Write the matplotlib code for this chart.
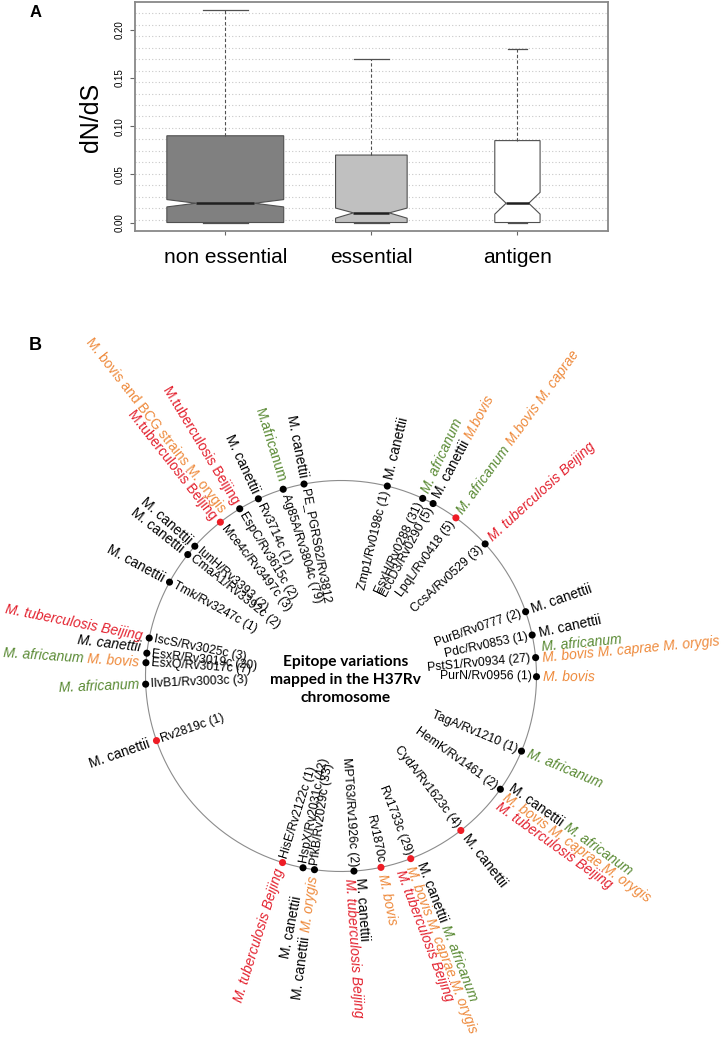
import numpy as np
import matplotlib
matplotlib.use('Agg')
import matplotlib.pyplot as plt

# ---- panel A data: dN/dS box statistics ----
categories = ['non essential', 'essential', 'antigen']
q1 = [0.0, 0.0, 0.0]
medians = [0.02, 0.01, 0.02]
q3 = [0.09, 0.07, 0.085]
whisk_hi = [0.22, 0.17, 0.18]
notch_lo = [0.0162, 0.0045, 0.0087]
notch_hi = [0.0238, 0.0150, 0.0313]
box_fill = ['#808080', '#c0c0c0', 'white']

# ---- panel B data: epitope variations around the H37Rv chromosome ----
genes = ['PE_PGRS62/Rv3812', 'Ag85A/Rv3804c (79)', 'Rv3714c (1)', 'EspC/Rv3615c (2)',
         'Mce4c/Rv3497c (3)', 'IunH/Rv3393 (2)', 'CmaA1/Rv3392c (2)', 'Tmk/Rv3247c (1)',
         'IscS/Rv3025c (3)', 'EsxR/Rv3019c (20)', 'EsxQ/Rv3017c (7)', 'IlvB1/Rv3003c (3)',
         'Rv2819c (1)', 'HisE/Rv2122c (1)', 'HspX/Rv2031c (42)', 'PfkB/Rv2029c (33)',
         'MPT63/Rv1926c (2)', 'Rv1870c', 'Rv1733c (29)', 'CydA/Rv1623c (4)',
         'HemK/Rv1461 (2)', 'TagA/Rv1210 (1)', 'PurN/Rv0956 (1)', 'PstS1/Rv0934 (27)',
         'Pdc/Rv0853 (1)', 'PurB/Rv0777 (2)', 'CcsA/Rv0529 (3)', 'LpqL/Rv0418 (5)',
         'EccD3/Rv0290 (5)', 'EsxH/Rv0288 (31)', 'Zmp1/Rv0198c (1)']
angles = [100.9, 107.2, 115.0, 121.2, 128.1, 138.4, 141.6, 151.3, 168.8, 173.3, 176.1,
          182.4, 199.3, 252.6, 258.8, 262.2, 273.8, 281.8, 290.9, 307.8, 324.6, 337.4,
          359.8, 5.4, 12.1, 19.2, 42.5, 54.0, 61.9, 65.3, 76.3]
red_dots = ['Mce4c/Rv3497c (3)', 'Rv2819c (1)', 'HisE/Rv2122c (1)', 'Rv1870c',
            'Rv1733c (29)', 'CydA/Rv1623c (4)', 'LpqL/Rv0418 (5)']
species = [
    [['M. canettii']],
    [['M.africanum']],
    [['M. canettii']],
    [['M.tuberculosis Beijing']],
    [['M. bovis and BCG strains M. orygis'], ['M.tuberculosis Beijing']],
    [['M. canettii']],
    [['M. canettii']],
    [['M. canettii']],
    [['M. tuberculosis Beijing']],
    [['M. canettii']],
    [['M. africanum', 'M. bovis']],
    [['M. africanum']],
    [['M. canettii']],
    [['M. tuberculosis Beijing']],
    [['M. canettii']],
    [['M. canettii', 'M. orygis']],
    [['M. canettii'], ['M. tuberculosis Beijing']],
    [['M. bovis']],
    [['M. canettii', 'M. africanum'], ['M. bovis M. caprae M. orygis'], ['M. tuberculosis Beijing']],
    [['M. canettii']],
    [['M. canettii', 'M. africanum'], ['M. bovis M. caprae M. orygis'], ['M. tuberculosis Beijing']],
    [['M. africanum']],
    [['M. bovis']],
    [['M. africanum'], ['M. bovis M. caprae M. orygis']],
    [['M. canettii']],
    [['M. canettii']],
    [['M. tuberculosis Beijing']],
    [['M. africanum', 'M.bovis M. caprae']],
    [['M. canettii', 'M.bovis']],
    [['M. africanum']],
    [['M. canettii']],
]

# layout tweaks for stacked labels (offset of first line, in line heights)
first_line = {4: 0.8, 9: 0.4, 16: 0.5, 18: 0.7, 20: 0.7, 23: 0.9}
extra_gap = {14: 16}
upright = {0, 1, 2, 3, 4}

GREEN = '#5a8a34'
ORANGE = '#ee8a3c'
RED = '#e3202d'
FONT = ['Liberation Sans', 'DejaVu Sans']


def species_color(s):
    if 'canettii' in s:
        return 'black'
    if 'africanum' in s:
        return GREEN
    if 'tuberculosis' in s:
        return RED
    return ORANGE


fig = plt.figure(figsize=(7.25, 10.37), dpi=100)
renderer = fig.canvas.get_renderer()

# ================= panel B =================
axB = fig.add_axes([0, 0, 1, 1])
axB.axis('off')
R = 195.5
cx, cy = 341.0, 676.0
axB.set_xlim(-cx / R, (725 - cx) / R)
axB.set_ylim(-(1037 - cy) / R, cy / R)

t = np.linspace(0, 2 * np.pi, 500)
axB.plot(np.cos(t), np.sin(t), color='#8c8c8c', lw=0.8, zorder=1)

rad = np.radians(angles)
dot_col = ['#ee1c25' if g in red_dots else 'black' for g in genes]
axB.scatter(np.cos(rad), np.sin(rad), c=dot_col, s=26, zorder=3, linewidths=0)


def width_pt(s, size, style):
    tt = fig.text(0, 0, s, fontsize=size, fontstyle=style, family=FONT)
    w = tt.get_window_extent(renderer=renderer).width
    tt.remove()
    return w * 72.0 / fig.dpi


def place(a, segs, outer, size, gap, perp, styles, colors):
    left = 90 < a < 270
    rot = a - 180 if left else (a - 360 if a > 270 else a)
    ar = np.radians(a)
    rr = np.radians(rot)
    u = np.array([np.cos(ar), np.sin(ar)])
    up = np.array([-np.sin(rr), np.cos(rr)])
    ha = 'left' if (outer != left) else 'right'
    sgn = 1 if outer else -1
    order = list(range(len(segs)))
    if ha == 'right':
        order = order[::-1]
    cum = gap
    for i in order:
        off = sgn * cum * u + perp * up
        axB.annotate(segs[i], xy=(np.cos(ar), np.sin(ar)), xycoords='data',
                     xytext=(off[0], off[1]), textcoords='offset points',
                     rotation=rot, rotation_mode='anchor', ha=ha, va='center',
                     fontsize=size, color=colors[i], fontstyle=styles[i],
                     family=FONT, annotation_clip=False)
        cum += width_pt(segs[i], size, styles[i]) + 0.28 * size


GENE_SIZE = 8.8
SP_SIZE = 10
LINE_H = 8.2
for i, (g, a) in enumerate(zip(genes, angles)):
    place(a, [g], False, GENE_SIZE, 3.6, 0, ['normal'], ['black'])
    lines = species[i]
    top = first_line.get(i, 0.0)
    for k, line in enumerate(lines):
        styles = []
        for s in line:
            if i in upright or ('canettii' in s and i != 9):
                styles.append('normal')
            else:
                styles.append('italic')
        cols = [species_color(s) for s in line]
        place(a, line, True, SP_SIZE, 5 + extra_gap.get(i, 0),
              (top - k) * LINE_H, styles, cols)

axB.text(0.025, -0.02, 'Epitope variations\nmapped in the H37Rv\nchromosome',
         ha='center', va='center', fontsize=11.2, fontweight='bold',
         family=['Lato', 'DejaVu Sans'], linespacing=1.4)

# ================= panel A =================
axA = fig.add_axes([134.7 / 725, 1 - 231 / 1037, (608 - 134.7) / 725, 229 / 1037])
lo, hi = -0.0088, 0.2288
for k in range(1, 20):
    axA.axhline(lo + k * (hi - lo) / 20, color='#c8c8c8', lw=0.8,
                linestyle=(0, (1, 2)), zorder=0)

stats = []
for i in range(len(categories)):
    stats.append(dict(med=medians[i], q1=q1[i], q3=q3[i], whislo=q1[i],
                      whishi=whisk_hi[i], cilo=notch_lo[i], cihi=notch_hi[i],
                      fliers=[]))
bp = axA.bxp(stats, positions=[1, 2, 3], widths=[0.8, 0.49, 0.31],
             capwidths=[0.31, 0.24, 0.13], shownotches=True, patch_artist=True,
             showfliers=False,
             boxprops=dict(edgecolor='#505050', linewidth=0.8),
             whiskerprops=dict(color='#505050', linewidth=0.8, linestyle=(0, (3, 2))),
             capprops=dict(color='#505050', linewidth=0.9),
             medianprops=dict(color='#202020', linewidth=1.8))
for patch, c in zip(bp['boxes'], box_fill):
    patch.set_facecolor(c)

axA.set_xlim(0.38, 3.62)
axA.set_ylim(lo, hi)
axA.set_xticks([1, 2, 3])
axA.set_xticklabels(categories, fontsize=15, family=FONT)
axA.set_yticks([0, 0.05, 0.10, 0.15, 0.20])
axA.set_yticklabels(['0.00', '0.05', '0.10', '0.15', '0.20'], fontsize=7,
                    rotation=90, va='center', family=FONT)
axA.tick_params(axis='x', length=3, color='#666666', pad=9)
axA.tick_params(axis='y', length=3.6, color='#666666', pad=4)
for sp in axA.spines.values():
    sp.set_color('#888888')
    sp.set_linewidth(1.3)

fig.text(91 / 725, 1 - 117 / 1037, 'dN/dS', rotation=90, ha='center', va='center',
         fontsize=18, family=FONT)
fig.text(36 / 725, 1 - 12.5 / 1037, 'A', ha='center', va='center', fontsize=12,
         fontweight='bold', family=FONT)
fig.text(35 / 725, 1 - 345 / 1037, 'B', ha='center', va='center', fontsize=13,
         fontweight='bold', family=FONT)

fig.savefig('out.png', dpi=100)
